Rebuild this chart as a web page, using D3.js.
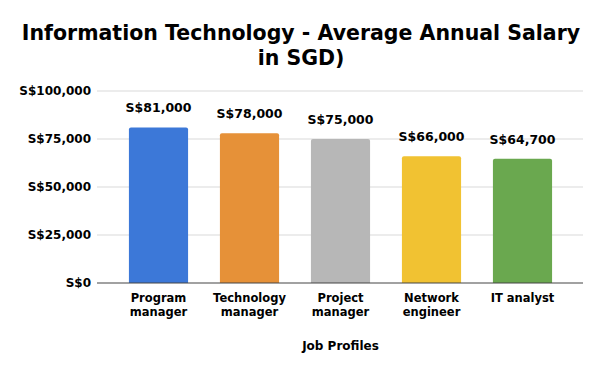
<!DOCTYPE html>
<html><head><meta charset="utf-8">
<script src="https://cdn.jsdelivr.net/npm/d3@7"></script>
<style>body{margin:0;background:#fff}svg{display:block}text{font-family:"DejaVu Sans",Verdana,sans-serif;font-weight:bold;fill:#000}</style>
</head><body><svg id="c" width="602" height="372"></svg>
<script>
const categories = [["Program","manager"],["Technology","manager"],["Project","manager"],["Network","engineer"],["IT analyst"]];
const salaries = [81000, 78000, 75000, 66000, 64700];
const colors = ["#3c78d8","#e69138","#b7b7b7","#f1c232","#6aa84f"];
const yTicks = [0, 25000, 50000, 75000, 100000];
const titleLines = ["Information Technology - Average Annual Salary","in SGD)"];
const xTitle = "Job Profiles";

const svg = d3.select("#c");
const keys = categories.map((c,i)=>i);
const x = d3.scaleBand().domain(keys).range([113,568]).paddingInner(0.35).paddingOuter(0.175);
const y = d3.scaleLinear().domain([0,100000]).range([283,91]);
const fmt = v => "S$" + d3.format(",")(v);

svg.append("g").selectAll("text").data(titleLines).join("text")
  .attr("x",301).attr("y",(d,i)=>40+i*25).attr("text-anchor","middle")
  .style("font-size","20.5px").text(d=>d);

const gl = 97, gr = 583;
svg.append("g").selectAll("line").data(yTicks.slice(1)).join("line")
  .attr("x1",gl).attr("x2",gr).attr("y1",d=>y(d)).attr("y2",d=>y(d))
  .attr("stroke","#d9d9d9").attr("stroke-width",1);

const yAxis = svg.append("g").attr("transform",`translate(${gl},0)`)
  .call(d3.axisLeft(y).tickValues(yTicks).tickFormat(fmt).tickSize(0).tickPadding(6));
yAxis.select(".domain").remove();
yAxis.selectAll("text").style("font-size","12px").attr("font-family",null);

svg.append("g").selectAll("path").data(salaries).join("path")
  .attr("fill",(d,i)=>colors[i])
  .attr("d",(d,i)=>{
    const x0=x(i), w=x.bandwidth(), y0=y(d), y1=y(0), r=2;
    return `M${x0},${y1}V${y0+r}Q${x0},${y0} ${x0+r},${y0}H${x0+w-r}Q${x0+w},${y0} ${x0+w},${y0+r}V${y1}Z`;
  });

svg.append("g").selectAll("text").data(salaries).join("text")
  .attr("x",(d,i)=>x(i)+x.bandwidth()/2).attr("y",d=>y(d)-15)
  .attr("text-anchor","middle").style("font-size","12.5px").text(d=>fmt(d));

svg.append("line").attr("x1",gl).attr("x2",gr).attr("y1",y(0)).attr("y2",y(0))
  .attr("stroke","#444").attr("stroke-width",1.2);

const xl = svg.append("g").selectAll("text").data(categories).join("text")
  .attr("x",(d,i)=>x(i)+x.bandwidth()/2).attr("y",302)
  .attr("text-anchor","middle").style("font-size","11.5px");
xl.selectAll("tspan").data(d=>d).join("tspan")
  .attr("x",function(){return this.parentNode.getAttribute("x");})
  .attr("dy",(d,i)=>i?14:0).text(d=>d);

svg.append("text").attr("x",340.5).attr("y",350).attr("text-anchor","middle")
  .style("font-size","12px").text(xTitle);
</script></body></html>
